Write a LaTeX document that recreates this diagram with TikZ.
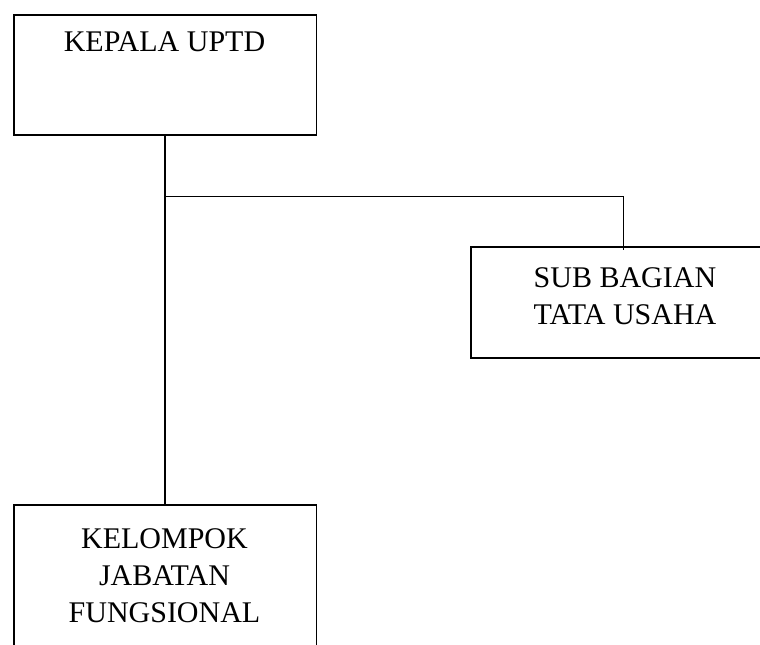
\documentclass[tikz,border=0pt]{standalone}
\usepackage{fontspec}
\setmainfont{Liberation Serif}
\begin{document}
\begin{tikzpicture}[x=0.75pt,y=-0.75pt,
  box/.style={draw,line width=1.2pt,rectangle,inner sep=0pt,anchor=north west},
  lbl/.style={font=\fontsize{22.5}{27.8}\selectfont,align=center,inner sep=0pt},
  conn/.style={line width=1.1pt},
  thin/.style={line width=0.75pt}]
\useasboundingbox (0,0) rectangle (760,645);
\clip (0,0) rectangle (760,645);
\node[box,minimum width=227pt,minimum height=90pt] (kepala) at (13,14) {};
\node[box,minimum width=232.5pt,minimum height=83.25pt] (sub) at (470,246) {};
\node[box,minimum width=227pt,minimum height=150pt] (kel) at (13,504) {};
\node[lbl,anchor=base] (tkepala) at (164.5,52) {KEPALA UPTD};
\node[lbl] (tsub) at (625,296) {SUB BAGIAN\\TATA USAHA};
\node[lbl] (tkel) at (164.5,576) {KELOMPOK\\JABATAN\\FUNGSIONAL};
\coordinate (j) at (165,197);
\coordinate (c) at (623,197);
\draw[conn] (kepala.south -| j) -- (kel.north -| j);
\draw[thin] (j) -- (c) -- ([yshift=-3pt]c |- sub.north);
\end{tikzpicture}
\end{document}
